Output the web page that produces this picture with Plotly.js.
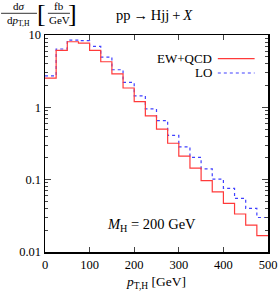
<!DOCTYPE html>
<html>
<head>
<meta charset="utf-8">
<script src="https://cdn.plot.ly/plotly-3.0.1.min.js"></script>
<style>html,body{margin:0;padding:0;background:#fff;}#chart{width:279px;height:296px;}</style>
</head>
<body>
<div id="chart"></div>
<script>
// bin edges (GeV)
const binEdges = [0,25,50,75,100,125,150,175,200,225,250,275,300,325,350,375,400,425,450,475,500];
// EW+QCD (fb/GeV)
const ewqcd = [2.54,6.12,8.07,7.74,6.12,4.27,2.91,1.85,1.2,0.762,0.50,0.319,0.212,0.144,0.097,0.068,0.047,0.0335,0.0236,0.0168];
// LO (fb/GeV)
const lo = [2.73,6.4,8.5,8.34,6.95,4.96,3.31,2.21,1.44,0.95,0.656,0.41,0.284,0.203,0.141,0.102,0.076,0.055,0.040,0.030];
const xTickVals = [0,100,200,300,400,500];
const yTickVals = [0.01,0.1,1,10];
const yTickText = ['0.01','0.1','1','10'];

const F = 'Liberation Serif, DejaVu Serif, serif';
const withLast = a => a.concat([a[a.length-1]]);

const traces = [
  {x: binEdges, y: withLast(lo), mode:'lines', line:{shape:'hv', color:'#4040ff', width:1.2, dash:'3px,3px'}, showlegend:false},
  {x: binEdges, y: withLast(ewqcd), mode:'lines', line:{shape:'hv', color:'#ff3a3a', width:1.2}, showlegend:false}
];

const FY = 1.100;
const layout = {
  width:279, height:296,
  margin:{l:45, r:11, t:35, b:44},
  paper_bgcolor:'#fff', plot_bgcolor:'#fff',
  font:{family:F, size:12.5, color:'#000'},
  xaxis:{range:[0,500], tickvals:xTickVals, ticks:'inside', ticklen:5, tickwidth:1.2, mirror:'ticks',
         showline:true, linecolor:'#000', linewidth:1.5, showgrid:false, zeroline:false,
         tickfont:{family:F,size:12.5}, title:{text:'<i>p</i><sub>T,H</sub> [GeV]', font:{family:F,size:13.5}, standoff:6}},
  yaxis:{type:'log', range:[-2,1], tickvals:yTickVals, ticktext:yTickText, ticks:'inside', ticklen:6, tickwidth:1.2,
         mirror:'ticks', showline:true, linecolor:'#000', linewidth:1.5, showgrid:false, zeroline:false,
         tickfont:{family:F,size:12.5},
         minor:{ticks:'inside', ticklen:3, tickwidth:1, tickvals:[0.02,0.03,0.04,0.05,0.06,0.07,0.08,0.09,0.2,0.3,0.4,0.5,0.6,0.7,0.8,0.9,2,3,4,5,6,7,8,9], showgrid:false}},
  shapes:[
    {type:'line', xref:'paper', yref:'paper', x0:0.775, x1:0.94, y0:0.891, y1:0.891, line:{color:'#ff3a3a', width:1.2}},
    {type:'line', xref:'paper', yref:'paper', x0:0.775, x1:0.94, y0:0.825, y1:0.825, line:{color:'#4040ff', width:1.2, dash:'3px,3px'}},
    {type:'line', xref:'paper', yref:'paper', x0:-0.197, x1:-0.036, y0:FY, y1:FY, line:{color:'#000', width:0.8}},
    {type:'line', xref:'paper', yref:'paper', x0:0.013, x1:0.112, y0:FY, y1:FY, line:{color:'#000', width:0.8}}
  ],
  annotations:[
    {xref:'paper', yref:'paper', x:0.755, y:0.891, xanchor:'right', yanchor:'middle', text:'EW+QCD', showarrow:false, font:{family:F,size:13}, borderpad:0},
    {xref:'paper', yref:'paper', x:0.755, y:0.825, xanchor:'right', yanchor:'middle', text:'LO', showarrow:false, font:{family:F,size:13}, borderpad:0},
    {xref:'paper', yref:'paper', x:0.27, y:0.124, xanchor:'left', yanchor:'middle', text:'<i>M</i><sub>H</sub> = 200 GeV', showarrow:false, font:{family:F,size:14.5}},
    {xref:'paper', yref:'paper', x:0.493, y:1.09, xanchor:'center', yanchor:'middle', text:'pp&#8201;→&#8201;Hjj&#8201;+&#8201;<i>X</i>', showarrow:false, font:{family:F,size:14.5}},
    {xref:'paper', yref:'paper', x:-0.117, y:FY, xanchor:'center', yanchor:'bottom', text:'d<i>σ</i>', showarrow:false, font:{family:F,size:11}, borderpad:0},
    {xref:'paper', yref:'paper', x:-0.117, y:FY, xanchor:'center', yanchor:'top', text:'d<i>p</i><sub>T,H</sub>', showarrow:false, font:{family:F,size:11}, borderpad:0},
    {xref:'paper', yref:'paper', x:-0.016, y:FY, xanchor:'center', yanchor:'middle', text:'[', showarrow:false, font:{family:F,size:26}},
    {xref:'paper', yref:'paper', x:0.123, y:FY, xanchor:'center', yanchor:'middle', text:']', showarrow:false, font:{family:F,size:26}},
    {xref:'paper', yref:'paper', x:0.063, y:FY, xanchor:'center', yanchor:'bottom', text:'fb', showarrow:false, font:{family:F,size:11}, borderpad:0},
    {xref:'paper', yref:'paper', x:0.063, y:FY, xanchor:'center', yanchor:'top', text:'GeV', showarrow:false, font:{family:F,size:11}, borderpad:0}
  ]
};
Plotly.newPlot('chart', traces, layout, {displayModeBar:false, staticPlot:true});
</script>
</body>
</html>
